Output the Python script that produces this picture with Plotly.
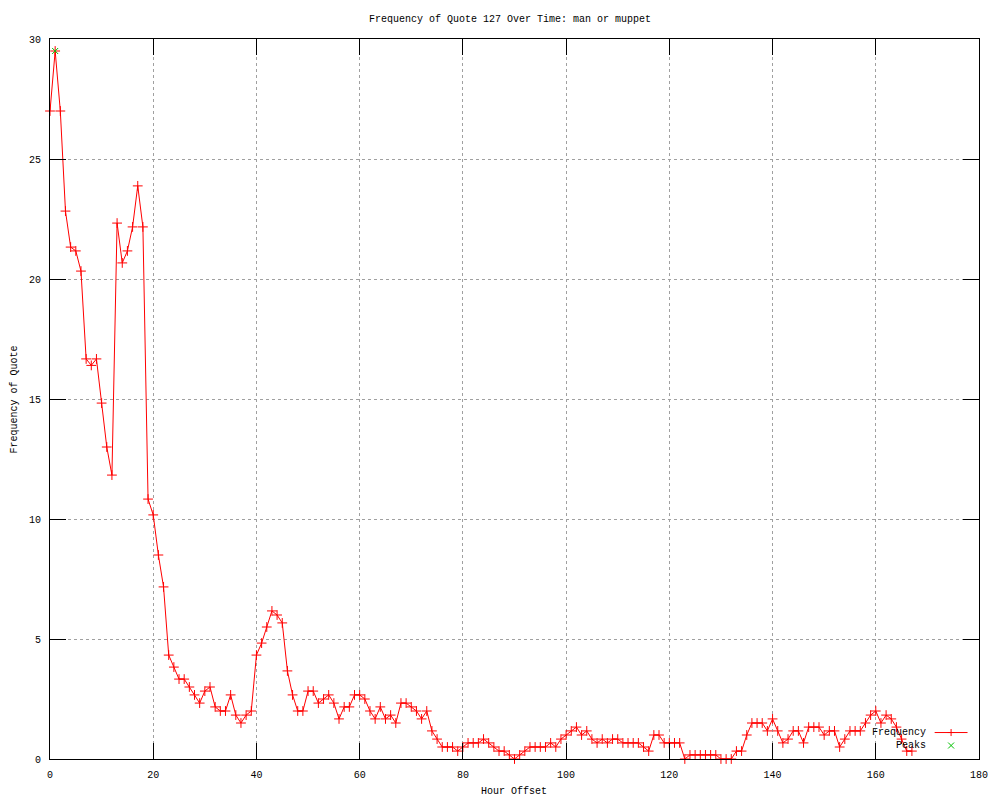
import plotly.graph_objects as go

hours = list(range(0, 168))
frequency = [
    27.0, 29.5, 27.0, 22.83, 21.33, 21.17, 20.33, 16.67, 16.4, 16.67,
    14.83, 13.0, 11.83, 22.33, 20.67, 21.17, 22.17, 23.88, 22.17, 10.83,
    10.17, 8.5, 7.17, 4.33, 3.83, 3.33, 3.33, 3.0, 2.67, 2.33,
    2.83, 3.0, 2.17, 2.0, 2.0, 2.67, 1.83, 1.5, 1.83, 2.0,
    4.33, 4.83, 5.5, 6.17, 6.0, 5.67, 3.67, 2.67, 2.0, 2.0,
    2.83, 2.83, 2.33, 2.5, 2.67, 2.33, 1.67, 2.17, 2.17, 2.67,
    2.67, 2.5, 2.0, 1.67, 2.17, 1.67, 1.83, 1.5, 2.33, 2.33,
    2.17, 2.0, 1.67, 2.0, 1.17, 0.83, 0.5, 0.5, 0.5, 0.33,
    0.5, 0.67, 0.67, 0.67, 0.83, 0.67, 0.5, 0.33, 0.33, 0.17,
    0.0, 0.17, 0.33, 0.5, 0.5, 0.5, 0.5, 0.67, 0.5, 0.83,
    1.0, 1.17, 1.33, 1.0, 1.17, 0.83, 0.67, 0.83, 0.67, 0.83,
    0.83, 0.67, 0.67, 0.67, 0.67, 0.5, 0.33, 1.0, 1.0, 0.67,
    0.67, 0.67, 0.67, 0.0, 0.17, 0.17, 0.17, 0.17, 0.17, 0.17,
    0.0, 0.0, 0.0, 0.33, 0.33, 1.0, 1.5, 1.5, 1.5, 1.17,
    1.67, 1.17, 0.67, 0.83, 1.17, 1.17, 0.67, 1.33, 1.33, 1.33,
    1.0, 1.17, 1.17, 0.5, 0.83, 1.17, 1.17, 1.17, 1.5, 1.83,
    2.0, 1.5, 1.83, 1.67, 1.33, 0.83, 0.33, 0.33,
]
peak_hours = [1]
peak_values = [29.5]

x_ticks = [0, 20, 40, 60, 80, 100, 120, 140, 160, 180]
y_ticks = [0, 5, 10, 15, 20, 25, 30]

FONT = "Liberation Mono"
RED = "#ff0000"
GREEN = "#00c000"

# page body has an 8px margin; figure size/margins account for it
W, H = 992, 792
L, R, T, B = 41.5, 18.5, 30.5, 40.5
PW, PH = W - L - R, H - T - B


def px(sx):  # screen x -> paper x
    return (sx - 8 - L) / PW


def py(sy):  # screen y -> paper y
    return (H - B - (sy - 8)) / PH


fig = go.Figure()
fig.add_trace(go.Scatter(
    x=hours, y=frequency, name="Frequency", mode="lines+markers",
    line=dict(color=RED, width=1),
    marker=dict(symbol="cross-thin", size=7, line=dict(color=RED, width=1), color=RED),
    cliponaxis=False, showlegend=False,
))
fig.add_trace(go.Scatter(
    x=peak_hours, y=peak_values, name="Peaks", mode="markers",
    marker=dict(symbol="x-thin", size=6, line=dict(color=GREEN, width=1), color=GREEN),
    cliponaxis=False, showlegend=False,
))

axis_common = dict(
    showline=True, linecolor="black", linewidth=1, mirror="ticks",
    ticks="inside", ticklen=16, tickcolor="black", tickwidth=1,
    showgrid=True, gridcolor="#a0a0a0", griddash="dot", gridwidth=1,
    zeroline=False, tickfont=dict(family=FONT, size=10, color="black"),
)

fig.update_xaxes(range=[0, 180], tickvals=x_ticks, ticktext=[str(v) for v in x_ticks],
                 ticklabelstandoff=6, **axis_common)
fig.update_yaxes(range=[0, 30], tickvals=y_ticks, ticktext=[str(v) for v in y_ticks],
                 ticklabelstandoff=6, **axis_common)

# gnuplot-style key: text right-aligned, sample to the right
key_shapes = [
    dict(type="line", xref="paper", yref="paper",
         x0=px(937), x1=px(970), y0=py(733), y1=py(733),
         line=dict(color=RED, width=1)),
    dict(type="line", xref="paper", yref="paper",
         x0=px(950), x1=px(957), y0=py(733), y1=py(733),
         line=dict(color=RED, width=1)),
    dict(type="line", xref="paper", yref="paper",
         x0=px(953.5), x1=px(953.5), y0=py(729.5), y1=py(736.5),
         line=dict(color=RED, width=1)),
    dict(type="line", xref="paper", yref="paper",
         x0=px(950.5), x1=px(956.5), y0=py(743), y1=py(749),
         line=dict(color=GREEN, width=1)),
    dict(type="line", xref="paper", yref="paper",
         x0=px(950.5), x1=px(956.5), y0=py(749), y1=py(743),
         line=dict(color=GREEN, width=1)),
]

fig.update_layout(
    width=W, height=H,
    margin=dict(l=L, r=R, t=T, b=B),
    paper_bgcolor="white", plot_bgcolor="white",
    font=dict(family=FONT, size=10, color="black"),
    title=dict(text="Frequency of Quote 127 Over Time: man or muppet",
               xref="container", x=(510 - 8) / W, xanchor="center",
               yref="container", y=1 - (18 - 8) / H, yanchor="middle",
               font=dict(family=FONT, size=10, color="black")),
    showlegend=False,
    shapes=key_shapes,
    annotations=[
        dict(text="Hour Offset", xref="paper", yref="paper", x=px(515), y=py(792),
             showarrow=False, xanchor="center", yanchor="middle",
             font=dict(family=FONT, size=10)),
        dict(text="Frequency of Quote", xref="paper", yref="paper", x=px(14), y=py(400),
             showarrow=False, textangle=-90, xanchor="center", yanchor="middle",
             font=dict(family=FONT, size=10)),
        dict(text="Frequency", xref="paper", yref="paper", x=px(930), y=py(733),
             showarrow=False, xanchor="right", yanchor="middle",
             font=dict(family=FONT, size=10)),
        dict(text="Peaks", xref="paper", yref="paper", x=px(930), y=py(746),
             showarrow=False, xanchor="right", yanchor="middle",
             font=dict(family=FONT, size=10)),
    ],
)

fig.write_html("out.html")
